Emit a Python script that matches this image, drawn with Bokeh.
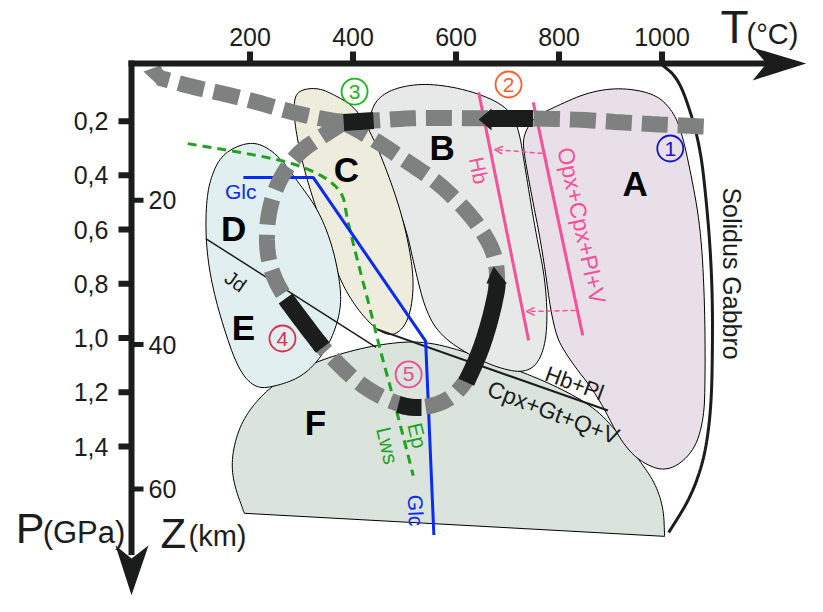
import numpy as np
from bokeh.plotting import figure
from bokeh.models import Range1d, Arrow, OpenHead
from bokeh.embed import file_html
from bokeh.resources import INLINE
from bokeh.core.properties import value

FONT = value("Liberation Sans")

# ---------------- axis ticks ----------------
T_TICKS = [200, 400, 600, 800, 1000]
T_LABELS = ["200", "400", "600", "800", "1000"]
P_TICKS = [0.2, 0.4, 0.6, 0.8, 1.0, 1.2, 1.4]
P_LABELS = ["0,2", "0,4", "0,6", "0,8", "1,0", "1,2", "1,4"]
Z_TICKS = [20, 40, 60]
Z_LABELS = ["20", "40", "60"]
GPA_PER_KM = 0.0266
Z_OFF_GPA = -0.04

# ---------------- fields (T in degC, P in GPa) ----------------
A_T = [731, 750, 789, 855, 919, 984, 1016, 1036, 1055, 1075, 1083, 1084, 1081, 1061, 1011, 958, 919, 875, 817, 789, 768, 745, 731]
A_P = [0.253, 0.187, 0.150, 0.094, 0.076, 0.098, 0.150, 0.224, 0.382, 0.592, 0.861, 1.156, 1.304, 1.422, 1.495, 1.458, 1.378, 1.212, 1.072, 0.972, 0.677, 0.456, 0.308]
B_T = [428, 434, 453, 492, 550, 628, 696, 721, 735, 754, 774, 778, 764, 735, 686, 628, 570, 541, 521, 502, 467]
B_P = [0.271, 0.161, 0.106, 0.072, 0.061, 0.087, 0.142, 0.216, 0.382, 0.603, 0.788, 0.972, 1.083, 1.128, 1.113, 1.065, 0.991, 0.899, 0.751, 0.585, 0.430]
C_T = [292, 331, 366, 405, 438, 473, 498, 514, 518, 508, 483, 453, 418, 385, 360, 333, 308, 290, 284]
C_P = [0.087, 0.076, 0.105, 0.150, 0.253, 0.419, 0.567, 0.714, 0.825, 0.935, 0.991, 0.980, 0.917, 0.825, 0.714, 0.548, 0.400, 0.253, 0.142]
DE_T = [115, 125, 145, 181, 216, 255, 294, 333, 360, 376, 376, 360, 333, 298, 250, 211, 178, 147, 124, 114]
DE_P = [0.493, 0.400, 0.326, 0.286, 0.279, 0.326, 0.426, 0.529, 0.658, 0.806, 0.898, 0.998, 1.083, 1.145, 1.178, 1.186, 1.119, 0.953, 0.787, 0.640]
F_T = [189, 168, 164, 178, 205, 244, 298, 376, 463, 541, 628, 725, 803, 871, 919, 958, 987, 1003, 1005]
F_P = [1.646, 1.536, 1.443, 1.333, 1.248, 1.174, 1.111, 1.056, 1.019, 1.011, 1.056, 1.122, 1.185, 1.259, 1.359, 1.455, 1.536, 1.628, 1.731]

# ---------------- curves ----------------
SOL_T = [997, 1030, 1055, 1075, 1086, 1094, 1098, 1098, 1096, 1088, 1075, 1052, 1013]
SOL_P = [-0.0125, 0.039, 0.161, 0.308, 0.493, 0.677, 0.861, 1.045, 1.230, 1.378, 1.488, 1.599, 1.717]
RX_T = [447, 895]
RX_P = [0.968, 1.267]
JD_T = [114, 445]
JD_P = [0.633, 1.034]
HB_T = [644, 741]
HB_P = [0.094, 1.009]
OPX_T = [750, 846]
OPX_P = [0.131, 0.990]
GR_T = [79, 240, 308, 356, 382, 387, 411, 434, 453, 477, 517]
GR_P = [0.283, 0.334, 0.371, 0.419, 0.474, 0.548, 0.732, 0.898, 1.046, 1.212, 1.507]
GLC_T = [187, 323, 541, 557]
GLC_P = [0.408, 0.408, 1.011, 1.726]
PK_ARROWS = [(768, 0.319, 675, 0.305), (832, 0.898, 737, 0.902)]

# ---------------- P-T path ----------------
UP_T = [1081, 958, 803, 648, 531, 440, 382, 327, 275, 216, 156, 84, 22]
UP_P = [0.220, 0.209, 0.190, 0.190, 0.187, 0.198, 0.205, 0.187, 0.164, 0.131, 0.102, 0.072, 0.039]
UP_HEAD_T = [-7, 26, 42, 22]
UP_HEAD_P = [0.017, -0.005, 0.054, 0.069]
LOOP_T = [382, 333, 294, 265, 244, 232, 234, 251, 279, 308, 341, 376, 414, 463, 511, 554, 593, 624, 648, 667, 679, 680, 671, 644, 608, 560, 507, 453, 411, 382]
LOOP_P = [0.205, 0.264, 0.316, 0.389, 0.474, 0.585, 0.706, 0.799, 0.880, 0.954, 1.035, 1.105, 1.171, 1.226, 1.256, 1.252, 1.219, 1.149, 1.046, 0.928, 0.825, 0.743, 0.670, 0.585, 0.504, 0.419, 0.352, 0.282, 0.234, 0.205]
BLK_SEGS = [([269, 279, 308, 341], [0.854, 0.880, 0.954, 1.035]),
            ([488, 511, 533], [1.245, 1.256, 1.256]),
            ([620, 648, 667, 679, 680], [1.163, 1.046, 0.928, 0.825, 0.795]),
            ([382, 440], [0.205, 0.198]),
            ([750, 667], [0.190, 0.190])]
BLK_HEADS = [([659, 673, 699], [0.799, 0.736, 0.799]),
             ([669, 644, 669], [0.153, 0.194, 0.235])]

# ---------------- labels ----------------
FIELD_T = [948, 573, 387, 168, 187, 327]
FIELD_P = [0.430, 0.297, 0.378, 0.596, 0.961, 1.311]
FIELD_TXT = ["A", "B", "C", "D", "E", "F"]
NUM_T = [1016, 702, 403, 263, 508]
NUM_P = [0.301, 0.065, 0.091, 1.0015, 1.134]
NUM_TXT = ["1", "2", "3", "4", "5"]
NUM_COL = ["#1515c8", "#ff5a2a", "#18b818", "#d8304e", "#ee4a90"]

GRAY = "#7f8181"
BLACK = "#1b1d1d"
PINK = "#f5509a"
GREEN = "#1fa31f"
BLUE = "#0a2af5"


def chaikin(xs, ys, n=3, closed=False):
    pts = np.column_stack([xs, ys]).astype(float)
    for _ in range(n):
        if closed:
            a, b = pts, np.roll(pts, -1, axis=0)
        else:
            a, b = pts[:-1], pts[1:]
        q = 0.75 * a + 0.25 * b
        r = 0.25 * a + 0.75 * b
        mid = np.empty((2 * len(a), 2))
        mid[0::2] = q
        mid[1::2] = r
        pts = mid if closed else np.vstack([pts[:1], mid, pts[-1:]])
    return pts[:, 0].tolist(), pts[:, 1].tolist()


X0, X1 = -284.5, 1282.5
Y0, Y1 = 1.9528, -0.2448
p = figure(width=807, height=596, x_range=Range1d(X0, X1), y_range=Range1d(Y0, Y1),
           x_axis_location=None, y_axis_location=None, output_backend="svg",
           toolbar_location=None, min_border=0)
p.outline_line_color = None
p.grid.grid_line_color = None
p.extra_y_ranges = {"z": Range1d(start=(Y0 - Z_OFF_GPA) / GPA_PER_KM, end=(Y1 - Z_OFF_GPA) / GPA_PER_KM)}

# fields
fx, fy = chaikin(F_T, F_P, 3, closed=False)
p.patch(fx, fy, fill_color="#dbe4dc", line_color="black", line_width=1)
for xs, ys, col in [(A_T, A_P, "#e9dfe8"), (B_T, B_P, "#e7e8e8"), (C_T, C_P, "#eeecdc"), (DE_T, DE_P, "#e2eff0")]:
    sx, sy = chaikin(xs, ys, 3, closed=True)
    p.patch(sx, sy, fill_color=col, line_color="black", line_width=1)

# solidus and reaction curves
sx, sy = chaikin(SOL_T, SOL_P, 3)
p.line(sx, sy, line_color=BLACK, line_width=3)
p.line(RX_T, RX_P, line_color=BLACK, line_width=2)
p.line(JD_T, JD_P, line_color=BLACK, line_width=1.5)
p.line(HB_T, HB_P, line_color=PINK, line_width=3)
p.line(OPX_T, OPX_P, line_color=PINK, line_width=3)
for xs_, ys_, xe, ye in PK_ARROWS:
    p.add_layout(Arrow(x_start=xs_, y_start=ys_, x_end=xe, y_end=ye, line_color=PINK, line_width=1.5,
                       line_dash="5 3", end=OpenHead(size=8, line_color=PINK, line_width=1.5)))
gx, gy = chaikin(GR_T, GR_P, 2)
p.line(gx, gy, line_color=GREEN, line_width=3, line_dash="9 6")
p.line(GLC_T, GLC_P, line_color=BLUE, line_width=3)

# P-T path
ux, uy = chaikin(UP_T, UP_P, 3)
p.line(ux, uy, line_color=GRAY, line_width=16, line_dash="26 10")
p.patch(UP_HEAD_T, UP_HEAD_P, fill_color=GRAY, line_color=None)
lx, ly = chaikin(LOOP_T, LOOP_P, 3)
p.line(lx, ly, line_color=GRAY, line_width=16, line_dash="26 10")
for xs, ys in BLK_SEGS:
    bx, by = chaikin(xs, ys, 2) if len(xs) > 2 else (xs, ys)
    p.line(bx, by, line_color=BLACK, line_width=17)
for xs, ys in BLK_HEADS:
    p.patch(xs, ys, fill_color=BLACK, line_color=None)

# labels in the diagram
p.text(x=FIELD_T, y=FIELD_P, text=FIELD_TXT, text_font=FONT, text_font_size="35px", text_font_style="bold",
       text_align="center", text_baseline="middle", text_color="black")
p.scatter(x=NUM_T, y=NUM_P, marker="circle", size=26, fill_color=None, line_color=NUM_COL, line_width=1.8)
p.text(x=NUM_T, y=NUM_P, text=NUM_TXT, text_font=FONT, text_font_size="21px", text_align="center",
       text_baseline="middle", text_color=NUM_COL)

d = np.deg2rad
rot = [
    ("Hb", 644, 0.382, -78.6, PINK, "21px"),
    ("Opx+Cpx+Pl+V", 844, 0.585, -78.0, PINK, "23px"),
    ("Hb+Pl", 830, 1.167, -20.0, BLACK, "22px"),
    ("Cpx+Gt+Q+V", 789, 1.274, -21.0, BLACK, "23px"),
    ("Jd", 172, 0.791, -35.0, BLACK, "20px"),
    ("Glc", 182, 0.459, 0.0, BLUE, "21px"),
    ("Glc", 522, 1.636, -88.0, BLUE, "21px"),
    ("Ep", 525, 1.359, -77.0, GREEN, "21px"),
    ("Lws", 467, 1.396, -77.0, GREEN, "21px"),
    ("Solidus Gabbro", 1135, 0.762, -90.0, BLACK, "25px"),
]
for t, x, y, a, c, s in rot:
    p.text(x=[x], y=[y], text=[t], angle=[d(a)], text_font=FONT, text_font_size=s, text_align="center",
           text_baseline="middle", text_color=c)

# ---------------- axes ----------------
P_AXIS_AT = -0.0125      # the T axis line
T_AXIS_AT = -30.1        # the P axis line
p.line([-36, 1205], [P_AXIS_AT, P_AXIS_AT], line_color=BLACK, line_width=6)
p.patch([1176, 1280, 1176, 1203], [-0.0715, P_AXIS_AT, 0.050, P_AXIS_AT], fill_color=BLACK, line_color=None)
p.line([T_AXIS_AT, T_AXIS_AT], [-0.0236, 1.80], line_color=BLACK, line_width=6)
p.patch([-61.2, T_AXIS_AT, 2.9, T_AXIS_AT], [1.765, 1.948, 1.765, 1.813], fill_color=BLACK, line_color=None)

p.segment(x0=T_TICKS, y0=[-0.057] * 5, x1=T_TICKS, y1=[P_AXIS_AT] * 5, line_color=BLACK, line_width=6)
p.text(x=T_TICKS, y=[-0.112] * 5, text=T_LABELS, text_font=FONT, text_font_size="25px", text_align="center",
       text_baseline="middle", text_color=BLACK)
p.segment(x0=[-55.4] * 7, y0=P_TICKS, x1=[T_AXIS_AT] * 7, y1=P_TICKS, line_color=BLACK, line_width=6)
p.text(x=[-75] * 7, y=P_TICKS, text=P_LABELS, text_font=FONT, text_font_size="25px", text_align="right",
       text_baseline="middle", text_color=BLACK)
p.segment(x0=[T_AXIS_AT] * 3, y0=Z_TICKS, x1=[-6.8] * 3, y1=Z_TICKS, y_range_name="z", line_color=BLACK, line_width=5)
p.text(x=[3] * 3, y=Z_TICKS, text=Z_LABELS, y_range_name="z", text_font=FONT, text_font_size="25px",
       text_align="left", text_baseline="middle", text_color=BLACK)

p.text(x=[1113.6], y=[-0.147], text=["T"], text_font=FONT, text_font_size="46px", text_align="left",
       text_baseline="middle", text_color=BLACK)
p.text(x=[1164], y=[-0.123], text=["(°C)"], text_font=FONT, text_font_size="29px", text_align="left",
       text_baseline="middle", text_color=BLACK)
p.text(x=[-255], y=[1.700], text=["P"], text_font=FONT, text_font_size="43px", text_align="left",
       text_baseline="middle", text_color=BLACK)
p.text(x=[-202.7], y=[1.715], text=["(GPa)"], text_font=FONT, text_font_size="31px", text_align="left",
       text_baseline="middle", text_color=BLACK)
p.text(x=[26.2], y=[1.721], text=["Z"], text_font=FONT, text_font_size="42px", text_align="left",
       text_baseline="middle", text_color=BLACK)
p.text(x=[80.6], y=[1.728], text=["(km)"], text_font=FONT, text_font_size="29px", text_align="left",
       text_baseline="middle", text_color=BLACK)

open("out.html", "w").write(file_html(p, INLINE))
